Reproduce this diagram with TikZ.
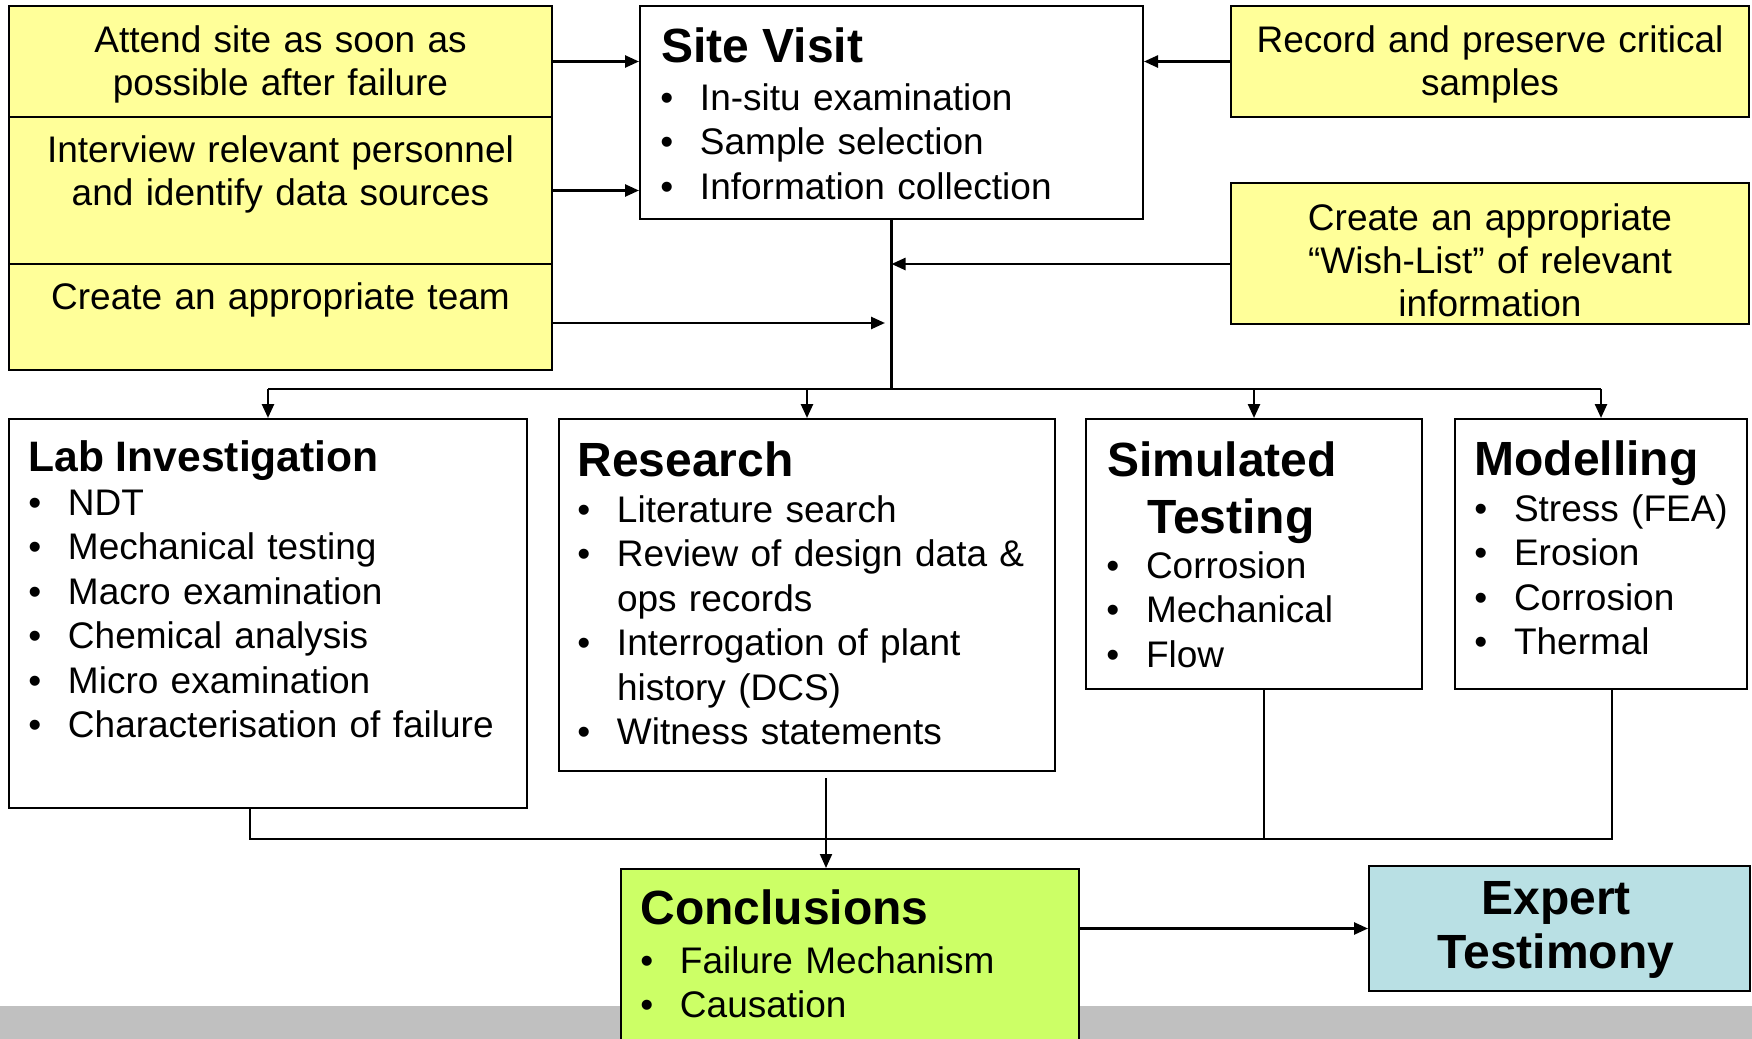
\documentclass[tikz,border=0pt]{standalone}
\usepackage{fontspec}
\setmainfont{Liberation Sans}
\usetikzlibrary{arrows.meta,fit}
\definecolor{ylw}{HTML}{FFFF99}
\definecolor{grn}{HTML}{CCFF66}
\definecolor{blu}{HTML}{B9E0E4}
\definecolor{bandgray}{HTML}{C0C0C0}
\newcommand{\bl}{\makebox[19.8pt][l]{•}}
\newcommand{\ind}{\hspace*{19.8pt}}
\begin{document}
\begin{tikzpicture}[x=0.5pt,y=-0.5pt,
  box/.style={draw=black, line width=1pt, inner sep=0pt},
  ybox/.style={box, fill=ylw},
  wbox/.style={box, fill=white},
  conn/.style={line width=1.25pt},
  thinconn/.style={line width=1pt},
  arr/.style={conn, -{Triangle[length=7pt,width=6pt]}},
  body/.style={font=\fontsize{18.5}{22.25}\selectfont, inner sep=0pt},
  head/.style={font=\fontsize{24}{28.5}\selectfont\bfseries, inner sep=0pt, anchor=base west},
  list/.style={body, anchor=base west, align=left, text width=300pt},
  ctext/.style={font=\fontsize{18.5}{21.7}\selectfont, inner sep=0pt, align=center, anchor=base, text width=262pt},
]
\useasboundingbox (0,0) rectangle (1752,1039);
\clip (0,0) rectangle (1752,1039);
\fill[bandgray] (0,1006) rectangle (1752,1039);

% boxes
\node[ybox, fit={(9,6)(552,117)}] (attend) {};
\node[ybox, fit={(9,117)(552,264)}] (interview) {};
\node[ybox, fit={(9,264)(552,370)}] (team) {};
\node[wbox, fit={(640,6)(1143,219)}] (sv) {};
\node[ybox, fit={(1231,6)(1749,117)}] (record) {};
\node[ybox, fit={(1231,183)(1749,324)}] (wish) {};
\node[wbox, fit={(9,419)(527,808)}] (lab) {};
\node[wbox, fit={(559,419)(1055,771)}] (res) {};
\node[wbox, fit={(1086,419)(1422,689)}] (sim) {};
\node[wbox, fit={(1455,419)(1747,689)}] (mod) {};
\node[box, fill=grn, fit={(621,869)(1079,1060)}] (con) {};
\node[box, fill=blu, fit={(1369,866)(1750,991)}] (exp) {};

% yellow texts
\node[ctext] (tattend) at (280.5,52) {Attend site as soon as\\possible after failure};
\node[ctext] (tinterview) at (280.5,162) {Interview relevant personnel\\and identify data sources};
\node[ctext] (tteam) at (280.5,309) {Create an appropriate team};
\node[ctext] (trecord) at (1490,52) {Record and preserve critical\\samples};
\node[ctext] (twish) at (1490,230) {Create an appropriate\\“Wish-List” of relevant\\information};

% headings
\node[head] (svhead) at (661,62) {Site Visit};
\node[head, font=\fontsize{21.3}{24}\selectfont\bfseries] (labhead) at (28,471) {Lab Investigation};
\node[head] (reshead) at (577,476) {Research};
\node[head] (simhead1) at (1107,476) {Simulated};
\node[head] (simhead2) at (1147,533) {Testing};
\node[head] (modhead) at (1474,475) {Modelling};
\node[head] (conhead) at (640,924) {Conclusions};
\node[font=\fontsize{24}{27}\selectfont\bfseries, inner sep=0pt, align=center, anchor=base, text width=360pt] (exphead) at (1556,914) {Expert\\Testimony};

% lists
\node[list] (svlist) at (660,110) {\bl In-situ examination\\\bl Sample selection\\\bl Information collection};
\node[list] (lablist) at (28,515) {\bl NDT\\\bl Mechanical testing\\\bl Macro examination\\\bl Chemical analysis\\\bl Micro examination\\\bl Characterisation of failure};
\node[list] (reslist) at (577,522) {\bl Literature search\\\bl Review of design data \&\\\ind ops records\\\bl Interrogation of plant\\\ind history (DCS)\\\bl Witness statements};
\node[list] (simlist) at (1106,578) {\bl Corrosion\\\bl Mechanical\\\bl Flow};
\node[list] (modlist) at (1474,521) {\bl Stress (FEA)\\\bl Erosion\\\bl Corrosion\\\bl Thermal};
\node[list] (conlist) at (640,973) {\bl Failure Mechanism\\\bl Causation};

% connectors, top part
\draw[arr] (attend.east) -- (attend.east -| sv.west);
\draw[arr] (interview.east) -- (interview.east -| sv.west);
\draw[arr] (record.west) -- (record.west -| sv.east);
\coordinate (bj) at (sv.south |- 0,389);
\draw[conn] (sv.south) -- (bj);
\coordinate (wsh) at (1231,264);
\draw[arr] (wsh) -- (wsh -| sv.south);
\coordinate (tm) at (552,323);
\coordinate (tmend) at (885,323);
\draw[arr] (tm) -- (tmend);
\draw[conn] (lab.north |- bj) -- (mod.north |- bj);
\draw[arr] (lab.north |- bj) -- (lab.north);
\draw[arr] (res.north |- bj) -- (res.north);
\draw[arr] (sim.north |- bj) -- (sim.north);
\draw[arr] (mod.north |- bj) -- (mod.north);

% connectors, lower part
\coordinate (lb1) at (250,839);
\coordinate (lb2) at (1612,839);
\coordinate (sdrop) at (1264,839);
\draw[thinconn] (lb1 |- lab.south) -- (lb1) -- (lb2) -- (lb2 |- mod.south);
\draw[thinconn] (sdrop |- sim.south) -- (sdrop);
\coordinate (rs) at (826,778);
\draw[arr, line width=1pt] (rs) -- (rs |- con.north);
\draw[arr] (exp.west -| con.east) -- (exp.west);
\end{tikzpicture}
\end{document}
